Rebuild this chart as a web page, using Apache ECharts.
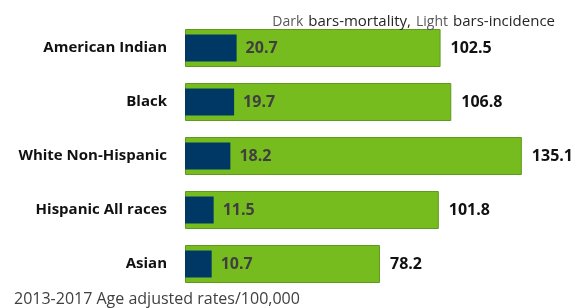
<!DOCTYPE html>
<html>
<head>
<meta charset="utf-8">
<script src="https://cdn.jsdelivr.net/npm/echarts@6/dist/echarts.min.js"></script>
<style>html,body{margin:0;padding:0;background:#fff}#c{width:574px;height:308px}</style>
</head>
<body>
<div id="c"></div>
<script>
var categories = ['American Indian', 'Black', 'White Non-Hispanic', 'Hispanic All races', 'Asian'];
var incidence = [102.5, 106.8, 135.1, 101.8, 78.2];
var mortality = [20.7, 19.7, 18.2, 11.5, 10.7];
var titleText = 'Dark bars-mortality, Light bars-incidence';
var footText = '2013-2017 Age adjusted rates/100,000';

var chart = echarts.init(document.getElementById('c'));
var font = '"Open Sans", "Liberation Sans", sans-serif';
chart.setOption({
  animation: false,
  title: [{
    text: '{a|Dark} {b|bars-mortality,} {a|Light} {b|bars-incidence}',
    right: 14, top: 8,
    textStyle: {
      rich: {
        a: {fontFamily: font, fontSize: 14, fontWeight: 'normal', color: '#595959'},
        b: {fontFamily: font, fontSize: 15, fontWeight: 'normal', color: '#262626'}
      }
    }
  }, {
    text: footText,
    left: 9, top: 286,
    textStyle: {fontFamily: font, fontSize: 16, fontWeight: 'normal', color: '#404040'}
  }],
  grid: {left: 185, right: 15, top: 21, bottom: 17, containLabel: false},
  xAxis: {type: 'value', min: 0, max: 150, show: false},
  yAxis: [{
    type: 'category', data: categories, inverse: true,
    axisLine: {show: false}, axisTick: {show: false},
    axisLabel: {margin: 18, fontFamily: font, fontSize: 15, fontWeight: 'bold', color: '#111'}
  }, {
    type: 'category', data: categories, inverse: true, show: false
  }],
  series: [{
    type: 'bar', yAxisIndex: 0, data: incidence, barWidth: 38,
    itemStyle: {color: '#77bc1f', borderColor: '#5f9a1c', borderWidth: 1},
    label: {show: true, position: 'right', distance: 10, fontFamily: font, fontSize: 16, fontWeight: 'bold', color: '#111'}
  }, {
    type: 'bar', yAxisIndex: 1, data: mortality, barWidth: 27,
    itemStyle: {color: '#003865'},
    label: {show: true, position: 'right', distance: 9, fontFamily: font, fontSize: 16, fontWeight: 'bold', color: '#3f3f3f'}
  }]
});
</script>
</body>
</html>
